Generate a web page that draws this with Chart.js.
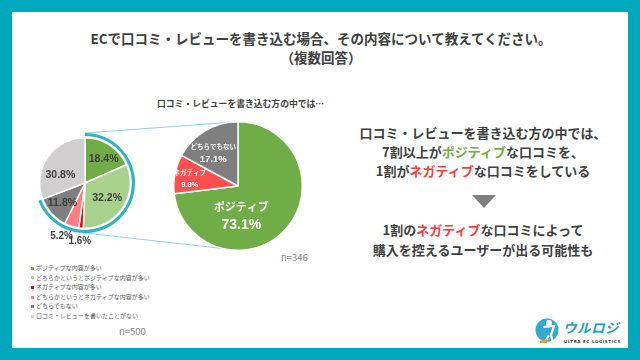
<!DOCTYPE html>
<html lang="ja">
<head>
<meta charset="utf-8">
<script src="https://cdn.jsdelivr.net/npm/chart.js@4"></script>
<style>
  body { margin: 0; }
  #page { position: relative; width: 640px; height: 360px; overflow: hidden; background: #fff;
          font-family: "Noto Sans CJK JP", "Noto Sans", sans-serif; color: #404040; }
  .frame { position: absolute; left: 0; top: 0; width: 616px; height: 336px; border: 12px solid #00a8bd; z-index: 5; }
  .title { position: absolute; left: 0; width: 642px; text-align: center; font-weight: bold;
           font-size: 13.5px; line-height: 19px; }
  .sub { position: absolute; left: 157px; top: 97px; font-size: 8.8px; font-weight: bold; white-space: nowrap; }
  canvas { position: absolute; z-index: 2; }
  #links { position: absolute; left: 0; top: 0; z-index: 1; }
  #legend { position: absolute; left: 31px; top: 263px; font-size: 6px; color: #595959; }
  #legend div { height: 9.6px; line-height: 9.6px; white-space: nowrap; }
  #legend span { display: inline-block; width: 3px; height: 3px; margin-right: 2px; vertical-align: middle; }
  .n { position: absolute; font-size: 9.5px; color: #7f7f7f; }
  .msg { position: absolute; left: 341px; width: 284px; text-align: center; font-weight: bold; font-size: 13px; }
  .pos { color: #70ad47; }
  .neg { color: #ff3b3b; }
  .tri { position: absolute; left: 472px; top: 195px; width: 0; height: 0;
         border-left: 12.5px solid transparent; border-right: 12.5px solid transparent; border-top: 13px solid #7f7f7f; }
  .logo { position: absolute; left: 563px; top: 317px; font-size: 13.5px; font-weight: bold; font-style: italic;
          color: #1ba1c6; letter-spacing: 0.5px; }
  .logo-sub { position: absolute; left: 564px; top: 339px; font-size: 4px; font-weight: bold; color: #333;
              letter-spacing: 0.6px; font-family: "DejaVu Sans", sans-serif; }
</style>
</head>
<body>
<div id="page">
  <div class="frame"></div>
  <div class="title" style="top:29px;">ECで口コミ・レビューを書き込む場合、その内容について教えてください。</div>
  <div class="title" style="top:48px;">（複数回答）</div>
  <div class="sub">口コミ・レビューを書き込む方の中では…</div>

  <svg id="links" width="640" height="360"></svg>
  <canvas id="allChart" width="140" height="140" style="left:15px; top:113px;"></canvas>
  <canvas id="writerChart" width="130" height="130" style="left:173px; top:121px;"></canvas>

  <div id="legend"></div>
  <div class="n" style="left:119px; top:324px;">n=500</div>
  <div class="n" style="left:281px; top:250px;">n=346</div>

  <div class="msg" style="top:123px; line-height:19px;">口コミ・レビューを書き込む方の中では、<br>7割以上が<span class="pos">ポジティブ</span>な口コミを、<br>1割が<span class="neg">ネガティブ</span>な口コミをしている</div>
  <div class="tri"></div>
  <div class="msg" style="top:220px; line-height:20px;">1割の<span class="neg">ネガティブ</span>な口コミによって<br>購入を控えるユーザーが出る可能性も</div>

  <svg style="position:absolute; left:534px; top:317px;" width="28" height="28">
    <circle cx="13" cy="13" r="11.5" fill="#35a9cd"/>
    <circle cx="15" cy="6" r="3" fill="#fff"/>
    <path d="M9 10 L20 9 L17 18 L19 25 M15 18 L11 25" stroke="#fff" stroke-width="2.2" fill="none"/>
    <path d="M6 24 L13 22 L13 26 L6 26 Z" fill="#f0a020"/>
  </svg>
  <div class="logo">ウルロジ</div>
  <div class="logo-sub">ULTRA EC LOGISTICS</div>
</div>

<script>
// 全体 (n=500)
const allLabels = ['ポジティブな内容が多い', 'どちらかというとポジティブな内容が多い', 'ネガティブな内容が多い',
                   'どちらかというとネガティブな内容が多い', 'どちらでもない', '口コミ・レビューを書いたことがない'];
const allValues = [18.4, 32.2, 1.6, 5.2, 11.8, 30.8];
const allColors = ['#70ad47', '#a9d18e', '#ff0000', '#ff7c80', '#7f7f7f', '#d0cece'];

// 書き込む方 (n=346)
const writerLabels = ['ポジティブ', 'ネガティブ', 'どちらでもない'];
const writerValues = [73.1, 9.8, 17.1];
const writerColors = ['#70ad47', '#ff5050', '#7f7f7f'];

const ringColor = '#2fb3c9';
const linkColor = '#8fd3de';

// the ring marks everyone who has written a review (all but the last slice)
const writers = allValues.slice(0, -1).reduce((a, b) => a + b, 0);
const ringValues = [writers, allValues[allValues.length - 1]];

// draws text on each slice: frac = where along the arc, rad = share of the radius
const sliceLabels = {
  id: 'sliceLabels',
  afterDatasetsDraw(chart, args, opts) {
    const ctx = chart.ctx;
    const meta = chart.getDatasetMeta(opts.dataset);
    meta.data.forEach((arc, i) => {
      const s = opts.spots[i];
      const a = arc.startAngle + (arc.endAngle - arc.startAngle) * s.frac;
      const r = arc.outerRadius * s.rad;
      const x = arc.x + Math.cos(a) * r;
      const y = arc.y + Math.sin(a) * r;
      const val = chart.data.datasets[opts.dataset].data[i].toFixed(1) + '%';
      ctx.save();
      ctx.fillStyle = opts.color;
      ctx.textAlign = 'center';
      ctx.textBaseline = 'middle';
      if (s.name) {
        ctx.font = 'bold ' + s.name + 'px "Noto Sans CJK JP"';
        ctx.fillText(chart.data.labels[i], x, y - s.gap / 2);
        ctx.font = 'bold ' + s.val + 'px "Liberation Sans", Arial';
        ctx.fillText(val, x, y + s.gap / 2);
      } else {
        ctx.font = 'bold ' + s.val + 'px "Liberation Sans", Arial';
        ctx.fillText(val, x, y);
      }
      ctx.restore();
    });
  }
};

const allChart = new Chart(document.getElementById('allChart'), {
  type: 'pie',
  data: {
    labels: allLabels,
    datasets: [
      { data: ringValues, backgroundColor: [ringColor, 'rgba(0,0,0,0)'], borderWidth: 0, weight: 3 },
      { data: [1], backgroundColor: 'rgba(0,0,0,0)', borderWidth: 0, weight: 1.5 },
      { data: allValues, backgroundColor: allColors, borderColor: '#fff', borderWidth: 1.5, weight: 44 }
    ]
  },
  options: {
    responsive: false,
    animation: false,
    layout: { padding: 20 },
    plugins: {
      legend: { display: false },
      tooltip: { enabled: false },
      sliceLabels: {
        dataset: 2,
        color: '#404040',
        spots: [
          { frac: 0.58, rad: 0.66, val: 10.5 },
          { frac: 0.5, rad: 0.59, val: 10.5 },
          { frac: 0.5, rad: 1.3, val: 10 },
          { frac: 0.85, rad: 1.28, val: 10 },
          { frac: 0.5, rad: 0.67, val: 10.5 },
          { frac: 0.35, rad: 0.57, val: 10.5 }
        ]
      }
    }
  },
  plugins: [sliceLabels]
});

const writerChart = new Chart(document.getElementById('writerChart'), {
  type: 'pie',
  data: {
    labels: writerLabels,
    datasets: [{ data: writerValues, backgroundColor: writerColors, borderColor: '#fff', borderWidth: 1.5 }]
  },
  options: {
    responsive: false,
    animation: false,
    plugins: {
      legend: { display: false },
      tooltip: { enabled: false },
      sliceLabels: {
        dataset: 0,
        color: '#fff',
        spots: [
          { frac: 0.66, rad: 0.47, name: 11, val: 14, gap: 18 },
          { frac: 0.43, rad: 0.76, name: 6.5, val: 7.5, gap: 12 },
          { frac: 0.4, rad: 0.64, name: 6.5, val: 9.5, gap: 13 }
        ]
      }
    }
  },
  plugins: [sliceLabels]
});

// legend below the small pie
const legend = document.getElementById('legend');
allLabels.forEach((label, i) => {
  const row = document.createElement('div');
  row.innerHTML = '<span style="background:' + allColors[i] + '"></span>' + label;
  legend.appendChild(row);
});

// zoom lines from the ring of the small pie to the big pie
function drawLinks() {
  const svg = document.getElementById('links');
  const a = allChart.getDatasetMeta(0).data[0];
  const b = writerChart.getDatasetMeta(0).data[0];
  const ac = allChart.canvas, bc = writerChart.canvas;
  const ax = ac.offsetLeft + a.x, ay = ac.offsetTop + a.y;
  const bx = bc.offsetLeft + b.x, by = bc.offsetTop + b.y;
  [-1, 1].forEach(dir => {
    const line = document.createElementNS('http://www.w3.org/2000/svg', 'line');
    line.setAttribute('x1', ax);
    line.setAttribute('y1', ay + dir * a.outerRadius);
    line.setAttribute('x2', bx);
    line.setAttribute('y2', by + dir * b.outerRadius);
    line.setAttribute('stroke', linkColor);
    line.setAttribute('stroke-width', 1);
    svg.appendChild(line);
  });
}
drawLinks();
</script>
</body>
</html>
